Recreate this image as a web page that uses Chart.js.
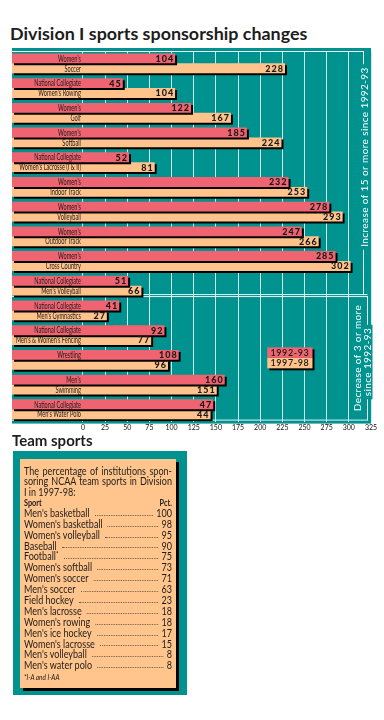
<!DOCTYPE html>
<html>
<head>
<meta charset="utf-8">
<title>Division I sports sponsorship changes</title>
<script src="https://cdn.jsdelivr.net/npm/chart.js@4.4.1/dist/chart.umd.min.js"></script>
<style>
  html, body { margin: 0; padding: 0; background: #fff; }
  body { width: 384px; height: 720px; position: relative; overflow: hidden; font-family: Lato, "Open Sans", sans-serif; color: #1d1d1d; }
  h1 { position: absolute; left: 10px; top: 22px; margin: 0; font-size: 17.9px; font-weight: 700; line-height: 22px; white-space: nowrap; }
  #chartBox { position: absolute; left: 0; top: 0; width: 384px; height: 440px; }
  h2 { position: absolute; left: 12px; top: 431px; margin: 0; font-size: 15px; font-weight: 700; line-height: 18px; }
  .team-box { position: absolute; left: 13px; top: 451px; width: 174px; height: 244px; background: #00928F; }
  .team-card { position: absolute; left: 7px; top: 8px; width: 156px; height: 229px; background: #FFC58C; box-shadow: 3px 3px 0 #000; overflow: hidden; }
  .team-inner { position: absolute; left: 4px; top: 7px; width: 172px; transform: scaleX(0.86); transform-origin: 0 0; font-size: 10.5px; }
  .jline { line-height: 10.3px; height: 10.3px; text-align: justify; text-align-last: justify; white-space: nowrap; }
  .jline.last { text-align-last: left; }
  .thead { display: flex; justify-content: space-between; font-weight: 700; font-size: 8.5px; line-height: 10px; height: 10px; margin-top: 1px; }
  .row { display: flex; align-items: flex-end; line-height: 10.9px; height: 10.9px; }
  .row .dots { flex: 1; border-bottom: 1px dotted #6b5a48; margin: 0 4px 3px 6px; }
  .row sup { font-size: 7px; line-height: 0; vertical-align: 3px; }
  .foot { font-style: italic; font-size: 7.5px; line-height: 8px; margin-top: 3px; }
</style>
</head>
<body>
<h1>Division I sports sponsorship changes</h1>
<div id="chartBox"><canvas id="sponsorChart"></canvas></div>
<h2>Team sports</h2>
<div class="team-box">
  <div class="team-card">
    <div class="team-inner" id="teamTable"></div>
  </div>
</div>

<script>
// bar chart data
const categoryLine1 = ["Women's", "National Collegiate", "Women's", "Women's", "National Collegiate",
  "Women's", "Women's", "Women's", "Women's", "National Collegiate",
  "National Collegiate", "National Collegiate", "Wrestling", "Men's", "National Collegiate"];
const categoryLine2 = ["Soccer", "Women's Rowing", "Golf", "Softball", "Women's Lacrosse (I & II)",
  "Indoor Track", "Volleyball", "Outdoor Track", "Cross Country", "Men's Volleyball",
  "Men's Gymnastics", "Men's & Women's Fencing", "", "Swimming", "Men's Water Polo"];
const sponsors1992 = [104, 45, 122, 185, 52, 232, 278, 247, 285, 51, 41, 92, 108, 160, 47];
const sponsors1997 = [228, 104, 167, 224, 81, 253, 293, 266, 302, 66, 27, 77, 96, 151, 44];
// bar lengths as drawn in the original graphic (its water polo bars run 100 too long)
const drawn1992 = [104, 45, 122, 185, 52, 232, 278, 247, 285, 51, 41, 92, 108, 160, 147];
const drawn1997 = [228, 104, 167, 224, 81, 253, 293, 266, 302, 66, 27, 77, 96, 151, 144];
const seasons = ['1992-93', '1997-98'];
const xTicks = [0, 25, 50, 75, 100, 125, 150, 175, 200, 225, 250, 275, 300, 325];
const increaseNote = 'Increase of 15 or more since 1992-93';
const decreaseNote = ['Decrease of 3 or more', 'since 1992-93'];
const lastIncreaseRow = 9;

// team sports table
const teamIntro = ['The percentage of institutions spon-', 'soring NCAA team sports in Division', 'I in 1997-98:'];
const teamSports = ["Men's basketball", "Women's basketball", "Women's volleyball", "Baseball", "Football*",
  "Women's softball", "Women's soccer", "Men's soccer", "Field hockey", "Men's lacrosse",
  "Women's rowing", "Men's ice hockey", "Women's lacrosse", "Men's volleyball", "Men's water polo"];
const teamPct = [100, 98, 95, 90, 75, 73, 71, 63, 23, 18, 18, 17, 15, 8, 8];
const teamFootnote = '*I-A and I-AA';

const TEAL = '#00928F', RED = '#EF6470', PEACH = '#FFC38B', GRID = '#CDEDEB', INK = '#1a1a1a';
const X_MIN = -80, X_MAX = 325;
const FONT = 'Lato, "Open Sans", sans-serif';

function condensedText(ctx, text, x, y, sx) {
    ctx.save();
    ctx.translate(x, y);
    ctx.scale(sx, 1);
    ctx.fillText(text, 0, 0);
    ctx.restore();
}

function rotatedNote(ctx, text, cx, cy, withBg) {
    ctx.save();
    ctx.translate(cx, cy);
    ctx.rotate(-Math.PI / 2);
    ctx.font = '10px ' + FONT;
    ctx.letterSpacing = '0.4px';
    const w = ctx.measureText(text).width;
    if (withBg) {
        ctx.fillStyle = TEAL;
        ctx.fillRect(-w / 2 - 3, -5, w + 6, 10);
    }
    ctx.fillStyle = '#fff';
    ctx.textAlign = 'center';
    ctx.textBaseline = 'middle';
    ctx.fillText(text, 0, 0.5);
    ctx.restore();
}

const panelPlugin = {
    id: 'panel',
    beforeDraw(chart) {
        const { ctx, chartArea: a } = chart;
        ctx.save();
        ctx.fillStyle = TEAL;
        ctx.fillRect(a.left, a.top - 3, a.right - a.left, a.bottom - a.top + 5);
        ctx.restore();
    },
    beforeDatasetsDraw(chart) {
        const { ctx, chartArea: a, scales: { y } } = chart;
        const sep = (y.getPixelForValue(lastIncreaseRow) + y.getPixelForValue(lastIncreaseRow + 1)) / 2;
        const fx = a.right - 7.5;
        ctx.save();
        ctx.strokeStyle = '#E6F5F4';
        ctx.lineWidth = 1;
        ctx.beginPath();
        ctx.moveTo(a.left, a.top + 0.5); ctx.lineTo(fx, a.top + 0.5);
        ctx.moveTo(fx, a.top); ctx.lineTo(fx, sep - 3);
        [sep - 3.5, sep - 1.5].forEach(v => { ctx.moveTo(a.left, v); ctx.lineTo(fx + 4, v); });
        ctx.moveTo(fx + 4, sep - 2); ctx.lineTo(fx + 4, a.bottom - 1.5);
        ctx.moveTo(a.left, a.bottom - 1.5); ctx.lineTo(fx + 4.5, a.bottom - 1.5);
        ctx.stroke();
        ctx.restore();

        rotatedNote(ctx, increaseNote, fx + 0.5, a.top + 106, true);
        rotatedNote(ctx, decreaseNote[0], fx - 6.5, sep + 60, false);
        rotatedNote(ctx, decreaseNote[1], fx + 4, sep + 64, true);

        // drop shadow for the bars
        ctx.save();
        ctx.shadowColor = '#000';
        ctx.shadowBlur = 0;
        ctx.shadowOffsetX = 2;
        ctx.shadowOffsetY = 2;
    },
    afterDatasetsDraw(chart) {
        const { ctx, scales: { x, y } } = chart;
        ctx.restore();

        const printed = [sponsors1992, sponsors1997];
        const names = [categoryLine1, categoryLine2];
        const zeroX = x.getPixelForValue(0) - 2;
        ctx.save();
        ctx.fillStyle = INK;
        ctx.textBaseline = 'middle';
        printed.forEach((vals, i) => {
            chart.getDatasetMeta(i).data.forEach((bar, j) => {
                ctx.font = '900 9px ' + FONT;
                ctx.letterSpacing = '1px';
                ctx.textAlign = 'right';
                ctx.fillText(String(vals[j]), bar.x - 1, bar.y + 0.5);
                ctx.letterSpacing = '0px';
                ctx.font = '8.5px ' + FONT;
                condensedText(ctx, names[i][j], zeroX, bar.y + 0.5, 0.66);
            });
        });

        // legend
        const lx0 = x.getPixelForValue(208), lx1 = x.getPixelForValue(259);
        const ly = y.getPixelForValue(12) - 12.5;
        const lh = 10.5;
        ctx.fillStyle = '#000';
        ctx.fillRect(lx0 + 2, ly + 2, lx1 - lx0, lh * 2);
        [RED, PEACH].forEach((c, i) => {
            ctx.fillStyle = c;
            ctx.fillRect(lx0, ly + i * lh, lx1 - lx0, lh);
            ctx.fillStyle = INK;
            ctx.font = '600 9px ' + FONT;
            ctx.letterSpacing = '0.6px';
            ctx.textAlign = 'center';
            ctx.fillText(seasons[i], (lx0 + lx1) / 2, ly + i * lh + lh / 2 + 0.5);
        });
        ctx.restore();
    }
};

new Chart(document.getElementById('sponsorChart'), {
    type: 'bar',
    data: {
        labels: categoryLine1.map((t, i) => (t + ' ' + categoryLine2[i]).trim()),
        datasets: [
            { label: seasons[0], data: drawn1992, backgroundColor: RED, base: X_MIN,
              categoryPercentage: 0.8, barPercentage: 1, borderWidth: 0 },
            { label: seasons[1], data: drawn1997, backgroundColor: PEACH, base: X_MIN,
              categoryPercentage: 0.8, barPercentage: 1, borderWidth: 0 }
        ]
    },
    options: {
        indexAxis: 'y',
        responsive: true,
        maintainAspectRatio: false,
        animation: false,
        layout: { padding: { left: 12, right: 13, top: 51, bottom: 6 } },
        plugins: { legend: { display: false }, tooltip: { enabled: false } },
        scales: {
            x: {
                type: 'linear',
                min: X_MIN,
                max: X_MAX,
                afterBuildTicks: scale => { scale.ticks = xTicks.map(v => ({ value: v })); },
                grid: { color: GRID, lineWidth: 1, drawTicks: false },
                border: { display: false },
                ticks: { font: { family: FONT, size: 7 }, color: '#111', padding: 2, autoSkip: false, maxRotation: 0 }
            },
            y: { display: false }
        }
    },
    plugins: [panelPlugin]
});

// team sports card
const table = document.getElementById('teamTable');
table.innerHTML = teamIntro.map((line, i) =>
    `<div class="jline${i === teamIntro.length - 1 ? ' last' : ''}">${line}</div>`).join('') +
    `<div class="thead"><span>Sport</span><span>Pct.</span></div>` +
    teamSports.map((name, i) => {
        const label = name.endsWith('*') ? name.slice(0, -1) + '<sup>*</sup>' : name;
        return `<div class="row"><span>${label}</span><span class="dots"></span><span>${teamPct[i]}</span></div>`;
    }).join('') +
    `<div class="foot">${teamFootnote}</div>`;
</script>
</body>
</html>
